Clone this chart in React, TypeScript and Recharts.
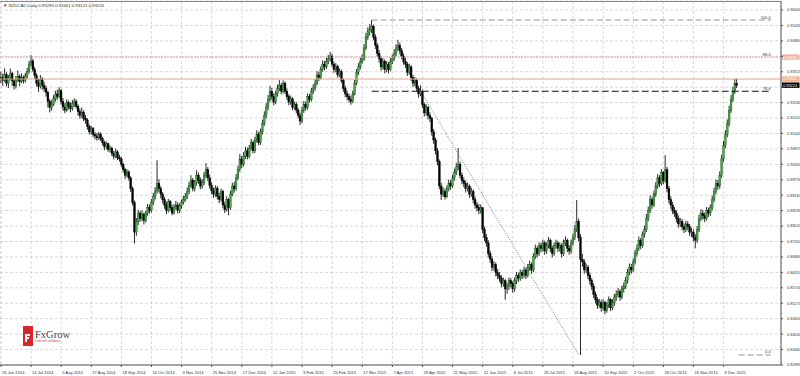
import React from 'react';
import {
  ComposedChart, Bar, XAxis, YAxis, CartesianGrid, ReferenceLine, ReferenceDot,
} from 'recharts';

// prices in 1/10000 (pips), open of each bar = previous close
const FIRST_OPEN = 9345;

const closes = [
  9350, 9340, 9362, 9330, 9348, 9365, 9338, 9320, 9342, 9355, 9335, 9350, 9340, 9358, 9372, 9400,
  9412, 9380, 9358, 9330, 9318, 9345, 9322, 9310, 9296, 9262, 9240, 9252, 9272, 9290, 9280, 9302,
  9262, 9242, 9230, 9258, 9245, 9236, 9255, 9262, 9244, 9225, 9210, 9222, 9200, 9194, 9170, 9150,
  9162, 9140, 9135, 9128, 9142, 9125, 9110, 9095, 9106, 9085, 9090, 9070, 9060, 9076, 9055, 9050,
  9030, 9010, 8990, 9002, 8980, 8940, 8890, 8780, 8820, 8850, 8830, 8846, 8822, 8850, 8870, 8860,
  8890, 8912, 8932, 8960, 8940, 8920, 8900, 8880, 8860, 8892, 8870, 8850, 8872, 8880, 8860, 8876,
  8890, 8900, 8912, 8930, 8952, 8972, 8940, 8962, 8990, 8970, 8950, 8962, 8990, 9010, 8980, 8952,
  8932, 8920, 8942, 8912, 8900, 8930, 8880, 8862, 8900, 8870, 8920, 8950, 8940, 8980, 9012, 9050,
  9030, 9060, 9080, 9060, 9090, 9110, 9080, 9120, 9140, 9110, 9150, 9180, 9210, 9240, 9270, 9300,
  9280, 9260, 9290, 9310, 9322, 9300, 9330, 9300, 9280, 9260, 9272, 9240, 9252, 9230, 9210, 9190,
  9230, 9252, 9240, 9280, 9270, 9300, 9312, 9330, 9360, 9350, 9380, 9400, 9390, 9410, 9420, 9430,
  9400, 9380, 9392, 9360, 9372, 9340, 9310, 9290, 9280, 9270, 9262, 9290, 9330, 9370, 9390, 9410,
  9420, 9460, 9500, 9520, 9530, 9540, 9500, 9470, 9440, 9420, 9390, 9410, 9380, 9400, 9380, 9410,
  9420, 9440, 9460, 9470, 9450, 9430, 9410, 9400, 9370, 9390, 9350, 9330, 9340, 9310, 9290, 9300,
  9250, 9220, 9240, 9210, 9200, 9150, 9120, 9080, 9040, 8950, 8920, 8930, 8910, 8940, 8960, 8950,
  8980, 9000, 9020, 9030, 8990, 8970, 8960, 8940, 8950, 8920, 8930, 8900, 8880, 8870, 8860, 8870,
  8790, 8760, 8740, 8700, 8680, 8650, 8660, 8630, 8620, 8610, 8590, 8600, 8570, 8580, 8600, 8590,
  8570, 8600, 8620, 8610, 8630, 8620, 8640, 8620, 8650, 8660, 8640, 8690, 8720, 8700, 8730, 8720,
  8740, 8710, 8730, 8750, 8720, 8700, 8730, 8740, 8720, 8730, 8700, 8740, 8750, 8720, 8710, 8740,
  8760, 8790, 8820, 8760, 8680, 8670, 8640, 8650, 8620, 8600, 8580, 8550, 8530, 8510, 8520, 8500,
  8520, 8490, 8510, 8530, 8500, 8520, 8540, 8550, 8560, 8540, 8570, 8580, 8600, 8630, 8650, 8640,
  8670, 8700, 8720, 8750, 8730, 8770, 8790, 8830, 8860, 8900, 8880, 8920, 8950, 8980, 8960, 9000,
  8970, 9010, 8940, 8900, 8880, 8860, 8850, 8830, 8810, 8820, 8800, 8790, 8810, 8800, 8780, 8780,
  8760, 8750, 8790, 8830, 8850, 8840, 8830, 8860, 8850, 8870, 8900, 8930, 8960, 8950, 8990, 9050,
  9100, 9140, 9180, 9230, 9270, 9300, 9329, 9322,
];

const highs = [
  9372, 9365, 9385, 9370, 9360, 9384, 9372, 9345, 9356, 9376, 9362, 9366, 9358, 9368, 9386, 9412,
  9433, 9420, 9390, 9366, 9345, 9360, 9352, 9335, 9320, 9302, 9272, 9268, 9285, 9302, 9306, 9315,
  9308, 9275, 9256, 9270, 9266, 9258, 9268, 9274, 9270, 9252, 9236, 9240, 9230, 9212, 9200, 9178,
  9172, 9168, 9150, 9145, 9150, 9148, 9132, 9118, 9115, 9110, 9100, 9095, 9080, 9088, 9082, 9066,
  9058, 9036, 9018, 9012, 9008, 8986, 8948, 8896, 8832, 8862, 8858, 8860, 8852, 8858, 8884, 8882,
  8902, 8925, 8946, 9045, 8975, 8950, 8928, 8910, 8892, 8902, 8898, 8880, 8884, 8895, 8890, 8886,
  8900, 8914, 8924, 8945, 8966, 8990, 8980, 8972, 9008, 9000, 8982, 8976, 9002, 9034, 9020, 8992,
  8964, 8944, 8952, 8950, 8925, 8940, 8936, 8892, 8912, 8905, 8932, 8962, 8966, 8994, 9025, 9068,
  9062, 9075, 9095, 9092, 9102, 9124, 9118, 9132, 9156, 9150, 9162, 9195, 9226, 9256, 9286, 9320,
  9312, 9292, 9302, 9325, 9341, 9330, 9340, 9336, 9310, 9290, 9284, 9278, 9262, 9260, 9238, 9220,
  9242, 9264, 9262, 9292, 9290, 9312, 9326, 9345, 9374, 9372, 9392, 9414, 9412, 9424, 9434, 9445,
  9438, 9410, 9404, 9398, 9384, 9380, 9348, 9320, 9302, 9292, 9284, 9302, 9342, 9382, 9404, 9424,
  9436, 9474, 9515, 9536, 9548, 9563, 9546, 9510, 9478, 9452, 9430, 9422, 9418, 9412, 9408, 9422,
  9436, 9456, 9474, 9490, 9480, 9460, 9440, 9424, 9408, 9402, 9396, 9360, 9352, 9348, 9320, 9322,
  9306, 9258, 9252, 9246, 9222, 9206, 9160, 9128, 9090, 9048, 8962, 8945, 8940, 8952, 8974, 8972,
  8992, 9014, 9036, 9090, 9040, 9000, 8982, 8970, 8962, 8956, 8944, 8938, 8910, 8892, 8884, 8882,
  8850, 8800, 8772, 8750, 8712, 8690, 8672, 8668, 8644, 8632, 8620, 8612, 8606, 8592, 8612, 8610,
  8598, 8612, 8632, 8630, 8642, 8640, 8652, 8648, 8662, 8674, 8668, 8702, 8734, 8728, 8742, 8740,
  8752, 8748, 8742, 8762, 8756, 8730, 8742, 8752, 8748, 8742, 8738, 8752, 8764, 8756, 8732, 8752,
  8774, 8806, 8898, 8830, 8772, 8700, 8680, 8664, 8658, 8630, 8610, 8590, 8560, 8540, 8532, 8530,
  8532, 8526, 8522, 8542, 8536, 8532, 8552, 8564, 8574, 8568, 8582, 8594, 8614, 8644, 8664, 8662,
  8682, 8714, 8734, 8764, 8758, 8782, 8804, 8846, 8874, 8916, 8910, 8932, 8964, 8994, 8990, 9012,
  9006, 9064, 9020, 8950, 8912, 8892, 8872, 8860, 8842, 8832, 8828, 8812, 8822, 8820, 8810, 8796,
  8790, 8772, 8802, 8844, 8864, 8862, 8852, 8872, 8870, 8882, 8914, 8944, 8974, 8972, 9004, 9066,
  9116, 9156, 9196, 9246, 9286, 9316, 9346, 9346,
];

const lows = [
  9330, 9320, 9335, 9318, 9312, 9340, 9320, 9306, 9310, 9335, 9318, 9330, 9328, 9332, 9348, 9366,
  9392, 9372, 9346, 9318, 9298, 9310, 9305, 9298, 9280, 9240, 9222, 9228, 9246, 9262, 9268, 9274,
  9250, 9228, 9219, 9224, 9232, 9222, 9228, 9242, 9236, 9210, 9198, 9202, 9190, 9180, 9158, 9140,
  9140, 9130, 9122, 9118, 9120, 9116, 9100, 9082, 9086, 9076, 9074, 9060, 9048, 9052, 9046, 9040,
  9020, 9000, 8976, 8982, 8970, 8928, 8878, 8738, 8766, 8806, 8818, 8820, 8808, 8815, 8840, 8848,
  8852, 8880, 8900, 8922, 8926, 8905, 8886, 8866, 8846, 8852, 8858, 8842, 8845, 8862, 8848, 8850,
  8866, 8882, 8892, 8902, 8920, 8944, 8930, 8930, 8952, 8958, 8938, 8940, 8954, 8980, 8968, 8940,
  8920, 8906, 8910, 8900, 8886, 8892, 8868, 8850, 8856, 8842, 8862, 8912, 8926, 8932, 8972, 9002,
  9016, 9022, 9050, 9048, 9052, 9082, 9070, 9072, 9110, 9100, 9102, 9140, 9172, 9200, 9230, 9260,
  9268, 9248, 9252, 9280, 9300, 9288, 9292, 9290, 9268, 9248, 9250, 9230, 9232, 9218, 9200, 9175,
  9182, 9220, 9228, 9232, 9258, 9262, 9290, 9302, 9322, 9338, 9344, 9372, 9378, 9382, 9400, 9410,
  9390, 9368, 9370, 9350, 9352, 9330, 9298, 9278, 9266, 9258, 9250, 9256, 9284, 9322, 9360, 9380,
  9402, 9412, 9452, 9490, 9506, 9515, 9488, 9456, 9428, 9406, 9376, 9380, 9366, 9370, 9366, 9374,
  9400, 9412, 9430, 9448, 9436, 9418, 9398, 9386, 9356, 9360, 9338, 9316, 9318, 9298, 9276, 9282,
  9238, 9206, 9210, 9196, 9186, 9136, 9106, 9066, 9026, 8938, 8898, 8910, 8900, 8906, 8930, 8936,
  8944, 8970, 8990, 9008, 8978, 8956, 8946, 8926, 8930, 8906, 8910, 8886, 8866, 8856, 8846, 8848,
  8776, 8746, 8726, 8686, 8666, 8636, 8638, 8616, 8606, 8596, 8576, 8578, 8530, 8552, 8566, 8576,
  8556, 8560, 8588, 8596, 8600, 8606, 8610, 8606, 8612, 8636, 8626, 8632, 8680, 8686, 8692, 8706,
  8708, 8696, 8700, 8720, 8706, 8686, 8692, 8718, 8706, 8708, 8686, 8692, 8728, 8706, 8696, 8700,
  8730, 8750, 8780, 8746, 8326, 8652, 8626, 8630, 8606, 8586, 8566, 8536, 8516, 8496, 8500, 8486,
  8490, 8476, 8482, 8500, 8488, 8492, 8508, 8526, 8538, 8526, 8532, 8556, 8570, 8590, 8620, 8626,
  8632, 8660, 8690, 8710, 8716, 8722, 8760, 8780, 8820, 8850, 8866, 8872, 8910, 8940, 8946, 8952,
  8956, 8962, 8926, 8886, 8866, 8846, 8836, 8816, 8796, 8798, 8786, 8776, 8780, 8786, 8766, 8762,
  8746, 8720, 8740, 8780, 8820, 8826, 8816, 8822, 8836, 8840, 8860, 8890, 8920, 8936, 8940, 8980,
  9040, 9090, 9130, 9170, 9220, 9260, 9290, 9312,
];

// right price scale
const yTicks = [
  0.96000, 0.95430, 0.94860, 0.94290, 0.93720, 0.93150, 0.92580, 0.92010, 0.91440, 0.90870,
  0.90300, 0.89730, 0.89160, 0.88590, 0.88020, 0.87450, 0.86880, 0.86310, 0.85740, 0.85170,
  0.84600, 0.84030, 0.83460, 0.82890,
];

const dateLabels = [
  '26 Jun 2014', '14 Jul 2014', '5 Aug 2014', '27 Aug 2014', '18 Sep 2014', '10 Oct 2014',
  '3 Nov 2014', '25 Nov 2014', '17 Dec 2014', '12 Jan 2015', '3 Feb 2015', '25 Feb 2015',
  '17 Mar 2015', '7 Apr 2015', '29 Apr 2015', '21 May 2015', '12 Jun 2015', '6 Jul 2015',
  '28 Jul 2015', '18 Aug 2015', '10 Sep 2015', '2 Oct 2015', '26 Oct 2015', '16 Nov 2015',
  '9 Dec 2015',
];
const BARS_PER_LABEL = 16;
const SLOTS = 415;

// fibo / drawn objects
const fibHigh = { i: 197, price: 0.9563 };
const fibLow = { i: 308, price: 0.8326 };
const fib786 = 0.9300;
const trendStart = { i: 223, price: 0.9300 };
const trendEnd = { i: 307, price: 0.8326 };
const redLine = 0.9426;
const orangeLine = 0.9345;
const lastPrice = 0.93224;
const axisTags = [redLine, orangeLine, lastPrice];

const FONT = 'Liberation Sans, Arial, sans-serif';

const data = closes.map((c, i) => ({
  i,
  open: (i === 0 ? FIRST_OPEN : closes[i - 1]) / 1e4,
  close: c / 1e4,
  high: highs[i] / 1e4,
  low: lows[i] / 1e4,
  range: [lows[i] / 1e4, highs[i] / 1e4],
}));

const xTicks = dateLabels.map((_, k) => k * BARS_PER_LABEL);

const Candle = (props: any) => {
  const { x, y, width, height, payload } = props;
  if (payload == null || height == null) return null;
  const { open, close, high, low } = payload;
  const span = high - low || 1e-9;
  const py = (p: number) => y + ((high - p) / span) * height;
  const cx = x + width / 2;
  const up = close >= open;
  const top = Math.min(py(open), py(close));
  const bh = Math.max(Math.abs(py(open) - py(close)), 1);
  return (
    <g>
      <line x1={cx} x2={cx} y1={Math.min(y, top)} y2={Math.max(y + height, top + bh)} stroke="#111" strokeWidth={0.9} />
      <rect x={cx - 0.9} y={top} width={1.8} height={bh} fill={up ? '#4aa34a' : '#000000'} stroke={up ? '#1d5e1d' : '#000'} strokeWidth={0.4} />
    </g>
  );
};

const YTick = (props: any) => {
  const { x, y, payload } = props;
  const v = Number(payload.value);
  // the coloured price tags cover the scale labels below them
  const hidden = axisTags.some((t) => Math.abs(t - v) < 0.0015);
  if (hidden) return null;
  return (
    <text x={x + 2} y={y + 1.4} fontSize={3.9} fill="#333" fontFamily={FONT}>
      {v.toFixed(5)}
    </text>
  );
};

const XTick = (props: any) => {
  const { x, y, payload } = props;
  return (
    <text x={x + 1} y={y + 5} fontSize={4.1} fill="#333" fontFamily={FONT}>
      {dateLabels[payload.value / BARS_PER_LABEL]}
    </text>
  );
};

const axisTag = (value: number, bg: string, fg: string) => (props: any) => {
  const vb = props.viewBox;
  if (!vb) return null;
  const x0 = vb.x + vb.width + 1;
  return (
    <g>
      <rect x={x0} y={vb.y - 2.7} width={17.5} height={5.4} fill={bg} />
      <text x={x0 + 1} y={vb.y + 1.4} fontSize={3.9} fill={fg} fontFamily={FONT}>
        {value.toFixed(5)}
      </text>
    </g>
  );
};

const levelText = (txt: string) => (props: any) => {
  const vb = props.viewBox;
  if (!vb) return null;
  return (
    <text x={vb.x} y={vb.y - 1.5} fontSize={4} textAnchor="end" fill="#333" fontFamily={FONT}>
      {txt}
    </text>
  );
};

export default function App() {
  return (
    <div style={{ position: 'relative', width: 800, height: 376, background: '#fff', overflow: 'hidden' }}>
      <style>{'body{margin:0}'}</style>
      <ComposedChart
        width={800}
        height={376}
        data={data}
        margin={{ top: 1, right: 0, left: 0, bottom: 0 }}
      >
        <CartesianGrid stroke="#c8c8c8" strokeDasharray="3 2" strokeWidth={0.7} />
        <XAxis
          type="number"
          dataKey="i"
          domain={[-0.5, SLOTS - 0.5]}
          ticks={xTicks}
          interval={0}
          tick={<XTick />}
          tickLine={{ stroke: '#555' }}
          tickSize={2}
          axisLine={{ stroke: '#555' }}
          height={11}
          allowDataOverflow
        />
        <YAxis
          orientation="right"
          domain={[0.8289, 0.96332]}
          ticks={yTicks}
          interval={0}
          tick={<YTick />}
          tickLine={{ stroke: '#555' }}
          tickSize={2}
          axisLine={{ stroke: '#555' }}
          width={19}
          allowDataOverflow
        />
        <ReferenceLine y={redLine} stroke="#e89a94" strokeWidth={1} strokeDasharray="2 1" label={axisTag(redLine, '#f2b3a4', '#fff')} />
        <ReferenceLine y={orangeLine} stroke="#e3a485" strokeWidth={1} label={axisTag(orangeLine, '#eeb08e', '#fff')} />
        <ReferenceLine y={lastPrice} stroke="none" label={axisTag(lastPrice, '#000', '#fff')} />
        <Bar dataKey="range" barSize={2} shape={<Candle />} isAnimationActive={false} />
        <ReferenceLine
          segment={[{ x: fibHigh.i, y: fibHigh.price }, { x: 409, y: fibHigh.price }]}
          stroke="#777" strokeDasharray="6 3" strokeWidth={0.8}
        />
        <ReferenceLine
          segment={[{ x: fibHigh.i, y: fib786 }, { x: 409, y: fib786 }]}
          stroke="#111" strokeDasharray="7 3" strokeWidth={1.2}
        />
        <ReferenceLine
          segment={[{ x: 392, y: fibLow.price }, { x: 409, y: fibLow.price }]}
          stroke="#777" strokeDasharray="6 3" strokeWidth={0.8}
        />
        <ReferenceLine
          segment={[{ x: trendStart.i, y: trendStart.price }, { x: trendEnd.i, y: trendEnd.price }]}
          stroke="#555" strokeDasharray="1 1.5" strokeWidth={0.8}
        />
        <ReferenceDot x={409} y={fibHigh.price} r={0} stroke="none" label={levelText('100.0')} />
        <ReferenceDot x={409} y={redLine} r={0} stroke="none" label={levelText('88.6')} />
        <ReferenceDot x={409} y={fib786} r={0} stroke="none" label={levelText('78.6')} />
        <ReferenceDot x={409} y={fibLow.price} r={0} stroke="none" label={levelText('0.0')} />
      </ComposedChart>
      <div style={{ position: 'absolute', left: 0, top: 1, width: 781, borderTop: '1px solid #888' }} />
      <div style={{ position: 'absolute', left: 3, top: 3, fontSize: 4.3, color: '#333', fontFamily: FONT, whiteSpace: 'nowrap', lineHeight: '6px' }}>
        ▼ NZDCAD,Daily 0.93290 0.93461 0.93122 0.93224
      </div>
      <div style={{ position: 'absolute', left: 23, top: 326, display: 'flex', alignItems: 'center' }}>
        <div style={{ width: 10, height: 20, background: '#d9262b', position: 'relative' }}>
          <div style={{ position: 'absolute', left: 2, top: 8, width: 5, height: 1.5, background: '#fff' }} />
          <div style={{ position: 'absolute', left: 2, top: 8, width: 1.5, height: 8, background: '#fff' }} />
          <div style={{ position: 'absolute', left: 2, top: 11, width: 4, height: 1.5, background: '#fff' }} />
        </div>
        <div style={{ marginLeft: 2, lineHeight: '10px' }}>
          <div style={{ fontFamily: 'Liberation Serif, serif', fontSize: 10.5, color: '#444' }}>FxGrow</div>
          <div style={{ fontFamily: FONT, fontSize: 2.6, color: '#c33', lineHeight: '3px' }}>Trade with confidence</div>
        </div>
      </div>
    </div>
  );
}
